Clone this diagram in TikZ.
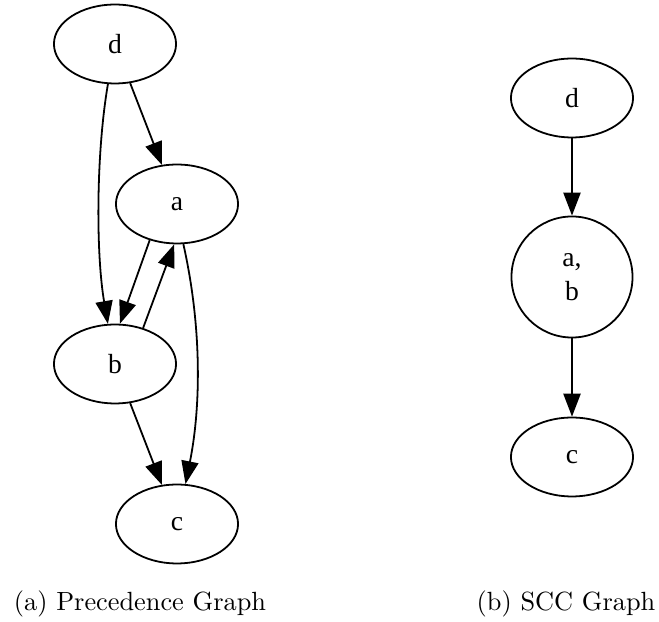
\documentclass[tikz,border=0pt]{standalone}
\usepackage{fontspec}
\newfontfamily\graphfont{Liberation Serif}
\usetikzlibrary{shapes.geometric,arrows.meta}

\begin{document}
\begin{tikzpicture}[x=0.38pt, y=0.38pt,
    vertex/.style={draw, ellipse, line width=0.68pt, minimum width=46.4pt,
      minimum height=30pt, inner sep=0pt,
      font=\graphfont\fontsize{10.5}{13}\selectfont},
    sccvertex/.style={draw, circle, line width=0.68pt, minimum size=46pt,
      inner sep=0pt, align=center,
      font=\graphfont\fontsize{10.5}{13}\selectfont},
    edge/.style={-{Triangle[length=8.7pt, width=6.5pt]}, line width=0.68pt},
    subcaption/.style={anchor=base, font=\normalsize}]
    %% pixel grid of the reference: x in [0, 659], y in [0, 622] (y up)
    \useasboundingbox (0,0) rectangle (659,622);

    % ---- (a) PRECEDENCE GRAPH ----
    \node[vertex] (d) at (115,578) {d};
    \node[vertex] (a) at (177,418) {a};
    \node[vertex] (b) at (115,258) {b};
    \node[vertex] (c) at (177,98)  {c};
    \draw[edge] (d) -- (a);
    \draw[edge] (d.-100) .. controls +(-12,-70) and +(-12,70) .. (b.100);
    \draw[edge] (a.-127) -- (b.83);
    \draw[edge] (b.52) -- (a.-94);
    \draw[edge] (a.-81) .. controls +(18,-80) and +(16,80) .. (c.78);
    \draw[edge] (b) -- (c);
    \node[subcaption] (capa) at (140,11) {(a) Precedence Graph};

    % ---- (b) SCC GRAPH ----
    \node[vertex]    (sccd)  at (572,524) {d};
    \node[sccvertex] (sccab) at (572,345) {a,\\b};
    \node[vertex]    (sccc)  at (572,165) {c};
    \draw[edge] (sccd) -- (sccab);
    \draw[edge] (sccab) -- (sccc);
    \node[subcaption] (capb) at (566,11) {(b) SCC Graph};

  \end{tikzpicture}
\end{document}
